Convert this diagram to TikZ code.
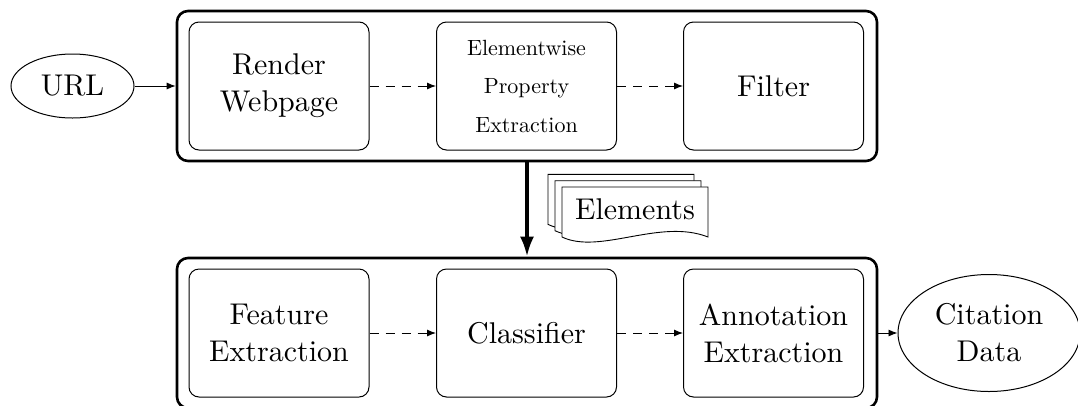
\documentclass[tikz,border=0pt]{standalone}
\usepackage{fontspec}
\setmainfont{lmroman10-regular.otf}
\usetikzlibrary{arrows.meta,shapes.geometric}
\begin{document}
\begin{tikzpicture}[x=1pt,y=-1pt,
  outerbox/.style={draw, line width=2.6pt, rounded corners=11pt, minimum width=700pt, minimum height=150pt, inner sep=0pt},
  stepbox/.style={draw, line width=1pt, rounded corners=10pt, minimum width=180pt, minimum height=128pt, align=center, inner sep=0pt, font=\fontsize{30}{37}\selectfont},
  smallbox/.style={stepbox, font=\fontsize{22}{38.5}\selectfont},
  io/.style={draw, ellipse, line width=1pt, inner sep=0pt, align=center, font=\fontsize{30}{37}\selectfont},
  flow/.style={-{Latex[length=9pt,width=7pt]}, line width=0.9pt},
  dflow/.style={flow, dash pattern=on 9pt off 7pt},
  bigflow/.style={-{Latex[length=20pt,width=14pt]}, line width=3.6pt},
  page/.style={draw, line width=0.9pt, fill=white}
]
\useasboundingbox (0,0) rectangle (1078,405);

% pipeline stages
\node[outerbox] (top) at (527,86) {};
\node[outerbox] (bot) at (527,333) {};

\node[stepbox]  (render) at (279,86)   {Render\\Webpage};
\node[smallbox] (prop)   at (526.5,86) {Elementwise\\Property\\Extraction};
\node[stepbox]  (filter) at (773.5,86) {Filter};

\node[stepbox] (feat)  at (279,333)   {Feature\\Extraction};
\node[stepbox] (cls)   at (526.5,333) {Classifier};
\node[stepbox] (annot) at (773.5,333) {Annotation\\Extraction};

% input and output
\node[io, minimum width=123pt, minimum height=64pt] (url) at (72.5,86) {URL};
\node[io, minimum width=182pt, minimum height=117pt] (cit) at (989,333) {Citation\\Data};

% stack of element documents
\foreach \d in {14,7,0} {
  \draw[page, shift={(-\d,-\d*0.9)}]
    (562,187) -- (708,187) -- (708,237)
    .. controls (660,218) and (600,255) .. (562,237) -- cycle;
}
\node[font=\fontsize{30}{37}\selectfont, inner sep=0pt] (elem) at (635,209) {Elements};

% connectors
\draw[flow] (url) -- (top);
\draw[dflow] (render) -- (prop);
\draw[dflow] (prop) -- (filter);
\draw[bigflow] (top) -- (bot);
\draw[dflow] (feat) -- (cls);
\draw[dflow] (cls) -- (annot);
\draw[flow] (bot) -- (cit);
\end{tikzpicture}
\end{document}
